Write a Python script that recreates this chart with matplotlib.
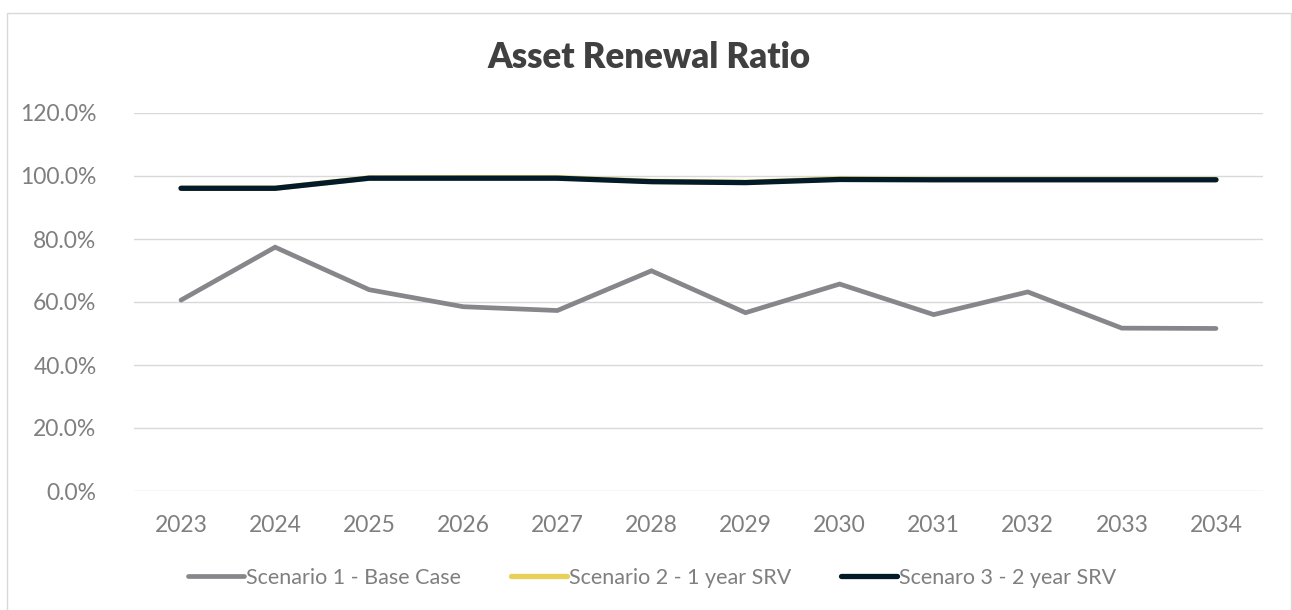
import matplotlib
matplotlib.use("Agg")
import matplotlib.pyplot as plt
from matplotlib.patches import Rectangle
from matplotlib.ticker import FuncFormatter

# ── Data ──────────────────────────────────────────────────────────────────────
years = ["2023", "2024", "2025", "2026", "2027", "2028",
         "2029", "2030", "2031", "2032", "2033", "2034"]

base_case = [0.606, 0.774, 0.639, 0.585, 0.573, 0.699,
             0.566, 0.657, 0.560, 0.632, 0.517, 0.516]
srv_1yr   = [0.961, 0.961, 0.994, 0.995, 0.995, 0.983,
             0.980, 0.991, 0.989, 0.989, 0.989, 0.989]
srv_2yr   = [0.961, 0.961, 0.993, 0.993, 0.993, 0.982,
             0.979, 0.989, 0.988, 0.988, 0.988, 0.988]

labels = ["Scenario 1 - Base Case", "Scenario 2 - 1 year SRV", "Scenaro 3 - 2 year SRV"]

# ── Style ─────────────────────────────────────────────────────────────────────
plt.rcParams["font.family"] = ["Lato", "DejaVu Sans"]
TEXT_GREY  = "#7f7f7f"
GRID_GREY  = "#d9d9d9"
C_BASE     = "#87878b"
C_SRV1     = "#e8d15a"
C_SRV2     = "#031a28"

fig = plt.figure(figsize=(12.92, 6.10), dpi=100)
ax  = fig.add_axes([134 / 1292, 1 - 491 / 610, 1129 / 1292, 378 / 610])

x = range(len(years))
ax.plot(x, base_case, color=C_BASE, lw=3.4, solid_capstyle="round",
        solid_joinstyle="miter", label=labels[0])
ax.plot(x, srv_1yr,   color=C_SRV1, lw=3.8, solid_capstyle="round",
        solid_joinstyle="miter", label=labels[1])
ax.plot(x, srv_2yr,   color=C_SRV2, lw=3.8, solid_capstyle="round",
        solid_joinstyle="miter", label=labels[2])

ax.set_xlim(-0.5, len(years) - 0.5)
ax.set_ylim(0, 1.2)
ax.set_yticks([i * 0.2 for i in range(7)])
ax.yaxis.set_major_formatter(FuncFormatter(lambda v, _: f"{v * 100:.1f}%"))
ax.set_xticks(list(x))
ax.set_xticklabels(years)

ax.grid(axis="y", color=GRID_GREY, lw=1.0)
ax.set_axisbelow(True)
for s in ax.spines.values():
    s.set_visible(False)
ax.tick_params(axis="both", length=0, labelsize=16.5, colors=TEXT_GREY)
ax.tick_params(axis="y", pad=27)
ax.tick_params(axis="x", pad=17)

fig.text(649 / 1292, 1 - 58 / 610, "Asset Renewal Ratio", ha="center", va="center",
         fontsize=25, fontweight="heavy", color="#404040")

leg = fig.legend(loc="center", bbox_to_anchor=(652 / 1292, 1 - 578 / 610), ncol=3,
                 frameon=False, fontsize=15.5, handlelength=2.6, handletextpad=0.1,
                 columnspacing=2.3, labelcolor=TEXT_GREY)

# chart-area border
fig.patches.append(Rectangle((7 / 1292, -0.05), 1284 / 1292, 1.05 - 13 / 610,
                             transform=fig.transFigure, fill=False,
                             edgecolor=GRID_GREY, lw=1.0, clip_on=False))

fig.savefig("out.png", dpi=100)
